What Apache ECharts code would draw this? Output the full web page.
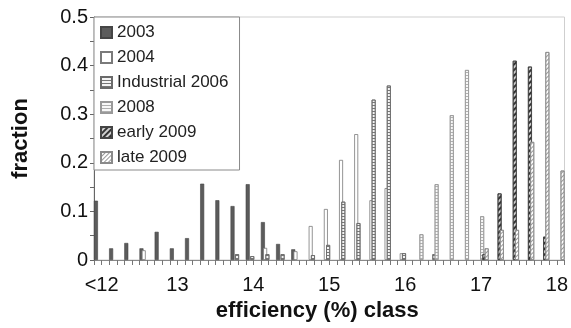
<!DOCTYPE html>
<html><head><meta charset="utf-8">
<script src="https://cdn.jsdelivr.net/npm/echarts@6/dist/echarts.min.js"></script>
<style>html,body{margin:0;padding:0;background:#fff}#c{width:571px;height:328px}</style>
</head><body><div id="c"></div>
<script>
const categories = ['<12','12.2','12.4','12.6','12.8','13','13.2','13.4','13.6','13.8','14','14.2','14.4','14.6','14.8','15','15.2','15.4','15.6','15.8','16','16.2','16.4','16.6','16.8','17','17.2','17.4','17.6','17.8','18'];
const seriesNames = ['2003','2004','Industrial 2006','2008','early 2009','late 2009'];
const y2003      = [0.122,0.024,0.035,0.024,0.058,0.024,0.045,0.157,0.123,0.111,0.156,0.078,0.033,0.022,0,0,0,0,0,0,0,0,0,0,0,0,0,0,0,0,0];
const y2004      = [0,0,0,0.020,0,0,0,0,0,0,0,0.025,0,0.018,0.070,0.105,0.206,0.259,0.123,0.148,0.014,0,0,0,0,0,0,0,0,0,0];
const yInd2006   = [0,0,0,0,0,0,0,0,0,0.012,0.008,0.012,0.012,0,0.010,0.031,0.120,0.076,0.330,0.359,0.014,0,0.012,0,0,0,0,0,0,0,0];
const y2008      = [0,0,0,0,0,0,0,0,0,0,0,0,0,0,0,0,0,0,0,0,0,0.053,0.156,0.298,0.391,0.090,0,0,0,0,0];
const yEarly2009 = [0,0,0,0,0,0,0,0,0,0,0,0,0,0,0,0,0,0,0,0,0,0,0,0,0,0.012,0.137,0.410,0.398,0.048,0];
const yLate2009  = [0,0,0,0,0,0,0,0,0,0,0,0,0,0,0,0,0,0,0,0,0,0,0,0,0,0.024,0.062,0.062,0.243,0.428,0.184];
const yTicks = [0,0.1,0.2,0.3,0.4,0.5];

const values = [y2003,y2004,yInd2006,y2008,yEarly2009,yLate2009];
const styles = [
  {color:'#5c5c5c', borderColor:'#454545', borderWidth:0.6},
  {color:'#ffffff', borderColor:'#7a7a7a', borderWidth:0.8},
  {color:'#f4f4f4', borderColor:'#6a6a6a', borderWidth:0.8, decal:{symbol:'rect', symbolSize:1, dashArrayX:[1,0], dashArrayY:[1,2], rotation:0, color:'#777'}},
  {color:'#f8f8f8', borderColor:'#999999', borderWidth:0.8, decal:{symbol:'rect', symbolSize:1, dashArrayX:[1,0], dashArrayY:[1,2], rotation:0, color:'#b0b0b0'}},
  {color:'#d0d0d0', borderColor:'#444444', borderWidth:0.8, decal:{symbol:'rect', symbolSize:1, dashArrayX:[1,0], dashArrayY:[1.2,1.2], rotation:-Math.PI/4, color:'#333'}},
  {color:'#ffffff', borderColor:'#8a8a8a', borderWidth:0.8, decal:{symbol:'rect', symbolSize:1, dashArrayX:[1,0], dashArrayY:[1,1.8], rotation:-Math.PI/4, color:'#999'}}
];

const chart = echarts.init(document.getElementById('c'), null, {renderer:'canvas'});
const font = 'Liberation Sans, Arial, sans-serif';
chart.setOption({
  animation:false,
  backgroundColor:'#fff',
  grid:{left:94, right:5, top:17, bottom:68, show:true, borderColor:'#cfcfcf', borderWidth:1, backgroundColor:'transparent'},
  legend:{
    orient:'vertical', left:94, top:17, itemWidth:11, itemHeight:11, itemGap:8,
    padding:[7,11,4,6], backgroundColor:'#fff', borderColor:'#8a8a8a', borderWidth:1,
    textStyle:{fontFamily:font, fontSize:17, lineHeight:17, color:'#222'},
    icon:'rect', data:seriesNames
  },
  xAxis:[{
    type:'category', data:categories, boundaryGap:true,
    axisLine:{lineStyle:{color:'#8a8a8a', width:1}},
    axisTick:{show:false},
    axisLabel:{interval:4, margin:15, fontFamily:font, fontSize:20, color:'#111'},
    name:'efficiency (%) class', nameLocation:'middle', nameGap:36,
    nameTextStyle:{fontFamily:font, fontSize:22, fontWeight:'bold', color:'#111', padding:[0,24,0,0]}
  },{
    type:'value', min:0, max:categories.length*2, interval:1, position:'bottom',
    axisLine:{show:false}, axisLabel:{show:false}, splitLine:{show:false},
    axisTick:{show:true, length:5, lineStyle:{color:'#777'}}
  }],
  yAxis:{
    type:'value', min:yTicks[0], max:yTicks[yTicks.length-1], interval:0.1,
    axisLine:{show:true, lineStyle:{color:'#666', width:1}},
    axisTick:{show:true, length:4, lineStyle:{color:'#666'}},
    minorTick:{show:true, splitNumber:2, length:4, lineStyle:{color:'#666'}},
    splitLine:{show:false},
    axisLabel:{margin:6, fontFamily:font, fontSize:20, color:'#111'},
    name:'fraction', nameLocation:'middle', nameGap:62, nameRotate:90,
    nameTextStyle:{fontFamily:font, fontSize:22, fontWeight:'bold', color:'#111'}
  },
  series: seriesNames.map((n,i)=>({
    name:n, type:'bar', xAxisIndex:0, barWidth:4, barGap:'-43.5%',
    itemStyle:styles[i],
    data: values[i].map(v => v === 0 ? null : v)
  }))
});
</script></body></html>
